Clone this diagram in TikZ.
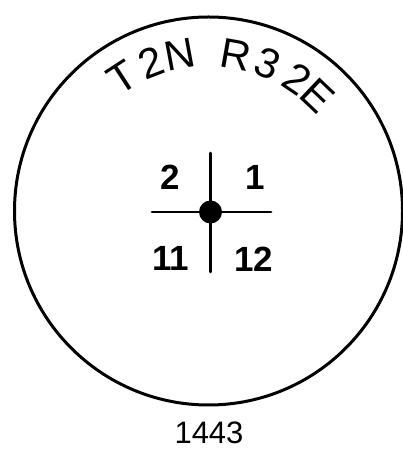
\documentclass[tikz,border=0pt]{standalone}
\usepackage{fontspec}
\setmainfont{Liberation Sans}
\usetikzlibrary{calc}

\begin{document}
\begin{tikzpicture}[x=1pt,y=1pt,line cap=round,line join=round,
  ring/.style={line width=3pt},
  tick/.style={line width=2.8pt},
  dot/.style={circle,fill=black,inner sep=0pt,minimum size=23pt},
  quad/.style={font=\fontsize{35}{35}\selectfont\bfseries,inner sep=0pt},
  arcletter/.style={font=\fontsize{42}{42}\selectfont,inner sep=0pt}]
  \useasboundingbox (0,0) rectangle (402,449);
  \coordinate (mid) at (208.5,238);
  \draw[ring] (mid) circle (194);
  % township and range along the top
  \foreach \ch/\ang [count=\i] in {T/123,2/111,N/100.5,R/80,3/68,2/56,E/46.5}
    \node[arcletter,rotate=\ang-90] (ltr\i) at ($(mid)+(\ang:159)$) {\ch};
  % section corner
  \node[dot] (corner) at (210.5,237) {};
  \coordinate (west) at (152,237);
  \coordinate (east) at (271,237);
  \coordinate (north) at (210.5,296);
  \coordinate (south) at (210.5,177);
  \draw[tick] (west) -- (east);
  \draw[tick] (north) -- (south);
  \node[quad] (s2) at (170,272) {2};
  \node[quad] (s1) at (255,272) {1};
  \node[quad] (s11) at (170.5,191) {11};
  \node[quad] (s12) at (253.5,190) {12};
  \node[font=\fontsize{31}{31}\selectfont,inner sep=0pt] (num) at (209,16) {1443};
\end{tikzpicture}
\end{document}
